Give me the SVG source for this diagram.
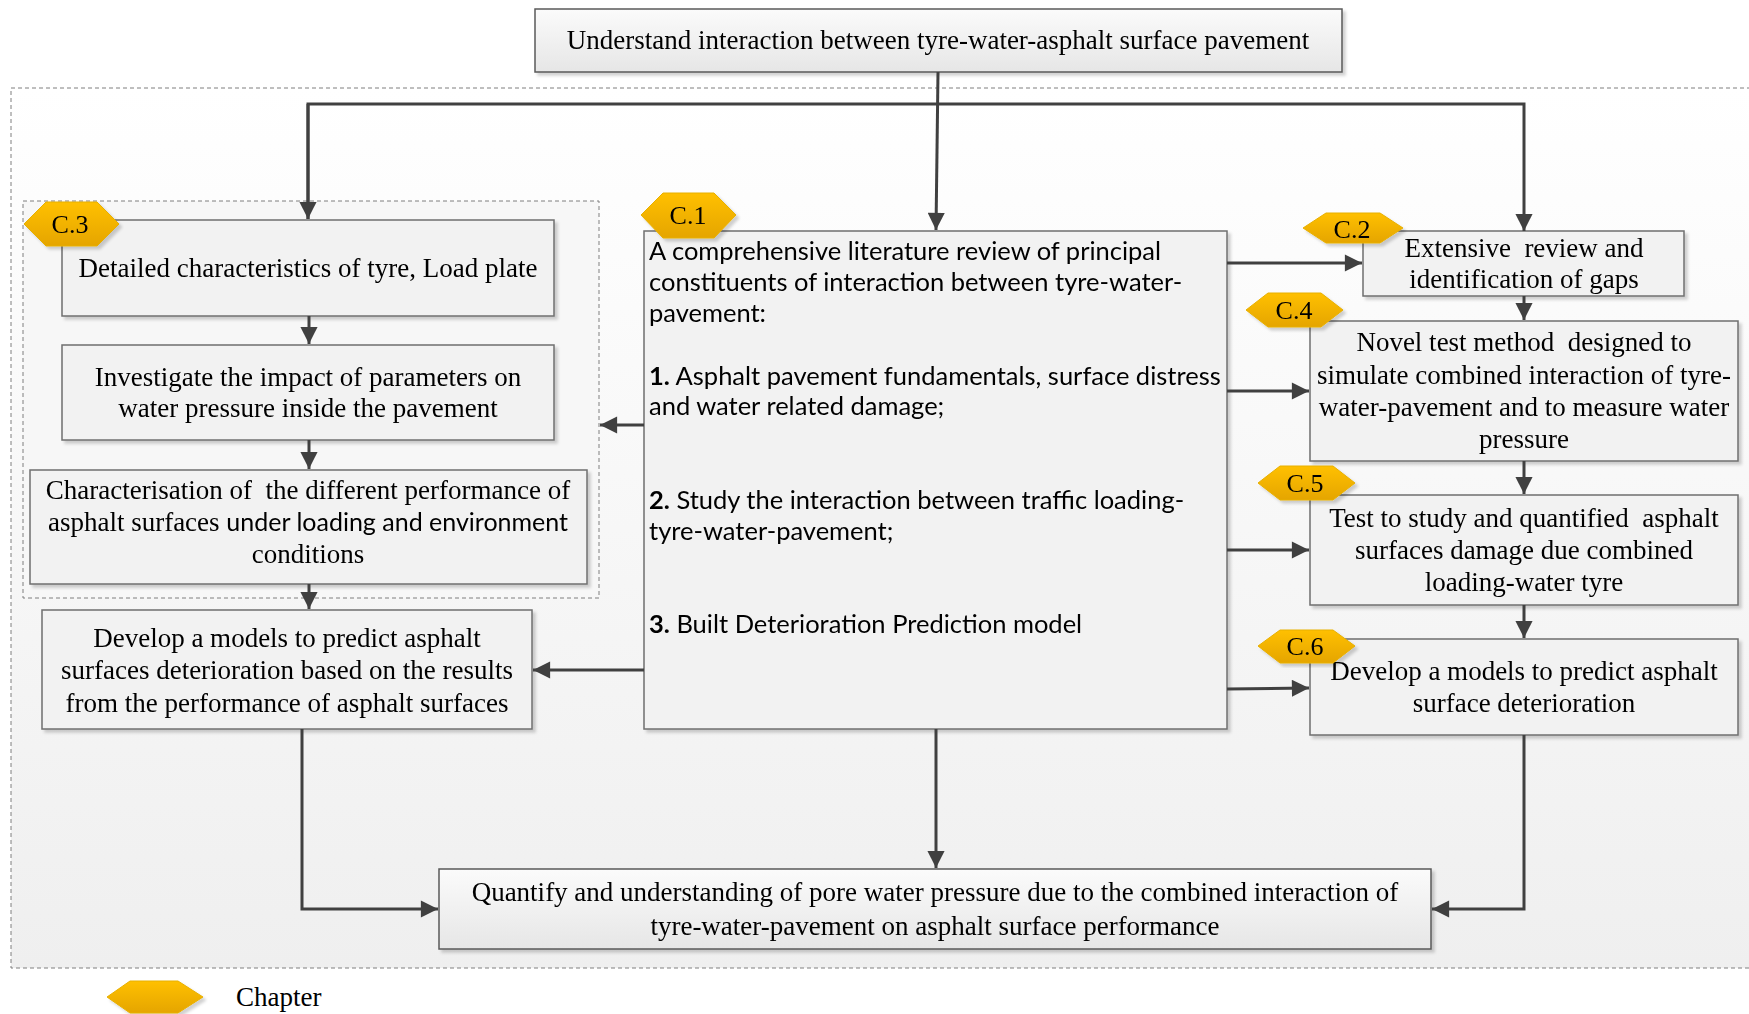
<svg xmlns="http://www.w3.org/2000/svg" width="1749" height="1014" viewBox="0 0 1749 1014">
<style>
text{white-space:pre}
.box{fill:#f2f2f2;stroke:#6f6f6f;stroke-width:1.5}
.gbox{fill:url(#gg);stroke:#595959;stroke-width:1.5}
.serif{font-family:"Liberation Serif","Times New Roman",serif;font-size:27px;fill:#000;text-anchor:middle}
.sans{font-family:Lato,"Open Sans","Liberation Sans",sans-serif;font-size:25.5px;fill:#000}
.hex{fill:url(#hg);stroke:#e8b000;stroke-width:1}
.hl{font-family:"Liberation Serif","Times New Roman",serif;font-size:26px;fill:#000;text-anchor:middle}
.con{fill:none;stroke:#404040;stroke-width:3}
.dash{fill:none;stroke:#7f7f7f;stroke-width:1;stroke-dasharray:4 3}
</style>
<defs>
<linearGradient id="bg" x1="0" y1="0" x2="0" y2="1"><stop offset="0" stop-color="#ffffff"/><stop offset="1" stop-color="#efefef"/></linearGradient>
<linearGradient id="gg" x1="0" y1="0" x2="0" y2="1"><stop offset="0" stop-color="#fbfbfb"/><stop offset="1" stop-color="#e6e6e6"/></linearGradient>
<linearGradient id="hg" x1="0" y1="0" x2="0" y2="1"><stop offset="0" stop-color="#ffc000"/><stop offset="1" stop-color="#e5a500"/></linearGradient>
<filter id="sh" x="-5%" y="-5%" width="110%" height="120%"><feDropShadow dx="3" dy="3" stdDeviation="1.5" flood-color="#000" flood-opacity="0.18"/></filter>
<marker id="ar" viewBox="0 0 10 10" refX="10" refY="5" markerWidth="6" markerHeight="5.7" orient="auto" markerUnits="strokeWidth"><path d="M0,0 L10,5 L0,10 z" fill="#404040"/></marker>
</defs>
<rect width="1749" height="1014" fill="#fff"/>
<g id="container">
<rect x="11" y="88" width="1745" height="880" class="dash" style="fill:url(#bg)"/>
<rect x="23" y="201" width="576" height="397" class="dash" style="fill:#f7f7f7"/>
</g>
<g id="top" filter="url(#sh)">
<rect x="535" y="9" width="807" height="63" class="gbox"/>
<text x="938" y="49" class="serif">Understand interaction between tyre-water-asphalt surface pavement</text>
</g>
<g id="c3a" filter="url(#sh)">
<rect x="62" y="220" width="492" height="96" class="box"/>
<text x="308" y="277" class="serif">Detailed characteristics of tyre, Load plate</text>
</g>
<g id="c3b" filter="url(#sh)">
<rect x="62" y="345" width="492" height="95" class="box"/>
<text x="308" y="386" class="serif">Investigate the impact of parameters on</text>
<text x="308" y="417" class="serif">water pressure inside the pavement</text>
</g>
<g id="c3c" filter="url(#sh)">
<rect x="30" y="470" width="557" height="114" class="box"/>
<text x="308" y="499" class="serif">Characterisation of  the different performance of</text>
<text x="308" y="531" class="serif">asphalt surfaces <tspan style="font-family:Lato,'Open Sans',sans-serif;font-size:25px">under loading and environment</tspan></text>
<text x="308" y="563" class="serif">conditions</text>
</g>
<g id="devleft" filter="url(#sh)">
<rect x="42" y="610" width="490" height="119" class="box"/>
<text x="287" y="647" class="serif">Develop a models to predict asphalt</text>
<text x="287" y="679" class="serif">surfaces deterioration based on the results</text>
<text x="287" y="712" class="serif">from the performance of asphalt surfaces</text>
</g>
<g id="c1" filter="url(#sh)">
<rect x="644" y="231" width="583" height="498" class="box"/>
<text class="sans" x="649" y="260">A comprehensive literature review of principal</text>
<text class="sans" x="649" y="291">constituents of interaction between tyre-water-</text>
<text class="sans" x="649" y="322">pavement:</text>
<text class="sans" x="649" y="385"><tspan font-weight="bold">1.</tspan> Asphalt pavement fundamentals, surface distress</text>
<text class="sans" x="649" y="415">and water related damage;</text>
<text class="sans" x="649" y="509"><tspan font-weight="bold">2.</tspan> Study the interaction between traffic loading-</text>
<text class="sans" x="649" y="540">tyre-water-pavement;</text>
<text class="sans" x="649" y="633"><tspan font-weight="bold">3.</tspan> Built Deterioration Prediction model</text>
</g>
<g id="c2" filter="url(#sh)">
<rect x="1363" y="231" width="321" height="65" class="box"/>
<text x="1524" y="257" class="serif">Extensive  review and</text>
<text x="1524" y="288" class="serif">identification of gaps</text>
</g>
<g id="c4" filter="url(#sh)">
<rect x="1310" y="321" width="428" height="140" class="box"/>
<text x="1524" y="351" class="serif">Novel test method  designed to</text>
<text x="1524" y="384" class="serif">simulate combined interaction of tyre-</text>
<text x="1524" y="416" class="serif">water-pavement and to measure water</text>
<text x="1524" y="448" class="serif">pressure</text>
</g>
<g id="c5" filter="url(#sh)">
<rect x="1310" y="495" width="428" height="110" class="box"/>
<text x="1524" y="527" class="serif">Test to study and quantified  asphalt</text>
<text x="1524" y="559" class="serif">surfaces damage due combined</text>
<text x="1524" y="591" class="serif">loading-water tyre</text>
</g>
<g id="c6" filter="url(#sh)">
<rect x="1310" y="639" width="428" height="96" class="box"/>
<text x="1524" y="680" class="serif">Develop a models to predict asphalt</text>
<text x="1524" y="712" class="serif">surface deterioration</text>
</g>
<g id="bottom" filter="url(#sh)">
<rect x="439" y="869" width="992" height="80" class="gbox"/>
<text x="935" y="901" class="serif">Quantify and understanding of pore water pressure due to the combined interaction of</text>
<text x="935" y="935" class="serif">tyre-water-pavement on asphalt surface performance</text>
</g>
<g id="connectors">
<polyline class="con" points="308,219 308,104 1524,104 1524,231" marker-end="url(#ar)"/>
<path class="con" d="M308,104 V219" marker-end="url(#ar)"/>
<path class="con" d="M938,72 L936,230" marker-end="url(#ar)"/>
<path class="con" d="M1227,263 H1362" marker-end="url(#ar)"/>
<path class="con" d="M1227,391 H1309" marker-end="url(#ar)"/>
<path class="con" d="M1227,550 H1309" marker-end="url(#ar)"/>
<path class="con" d="M1227,689 L1309,688" marker-end="url(#ar)"/>
<path class="con" d="M644,425 H600" marker-end="url(#ar)"/>
<path class="con" d="M644,670 H533" marker-end="url(#ar)"/>
<path class="con" d="M1524,296 V320" marker-end="url(#ar)"/>
<path class="con" d="M1524,461 V494" marker-end="url(#ar)"/>
<path class="con" d="M1524,605 V638" marker-end="url(#ar)"/>
<path class="con" d="M309,316 V344" marker-end="url(#ar)"/>
<path class="con" d="M309,440 V469" marker-end="url(#ar)"/>
<path class="con" d="M309,584 V609" marker-end="url(#ar)"/>
<polyline class="con" points="302,729 302,909 438,909" marker-end="url(#ar)"/>
<path class="con" d="M936,729 V868" marker-end="url(#ar)"/>
<polyline class="con" points="1524,735 1524,909 1432,909" marker-end="url(#ar)"/>
</g>
<g id="hex-c1" filter="url(#sh)"><polygon class="hex" points="641,215 663,193 714,193 736,215 714,238 663,238"/><text x="688" y="224" class="hl">C.1</text></g>
<g id="hex-c3" filter="url(#sh)"><polygon class="hex" points="24,224 46,202 97,202 119,224 97,246 46,246"/><text x="70" y="233" class="hl">C.3</text></g>
<g id="hex-c2" filter="url(#sh)"><polygon class="hex" points="1303,228 1326,213 1380,213 1403,228 1380,243 1326,243"/><text x="1352" y="238" class="hl">C.2</text></g>
<g id="hex-c4" filter="url(#sh)"><polygon class="hex" points="1246,310 1268,293 1321,293 1343,310 1321,327 1268,327"/><text x="1294" y="319" class="hl">C.4</text></g>
<g id="hex-c5" filter="url(#sh)"><polygon class="hex" points="1258,483 1280,466 1333,466 1355,483 1333,500 1280,500"/><text x="1305" y="492" class="hl">C.5</text></g>
<g id="hex-c6" filter="url(#sh)"><polygon class="hex" points="1258,646 1280,630 1333,630 1355,646 1333,663 1280,663"/><text x="1305" y="655" class="hl">C.6</text></g>
<g id="legend"><polygon class="hex" filter="url(#sh)" points="107,997 130,981 178,981 203,997 178,1013 130,1013"/><text x="236" y="1006" class="hl" style="text-anchor:start;font-size:27px">Chapter</text></g>
</svg>
